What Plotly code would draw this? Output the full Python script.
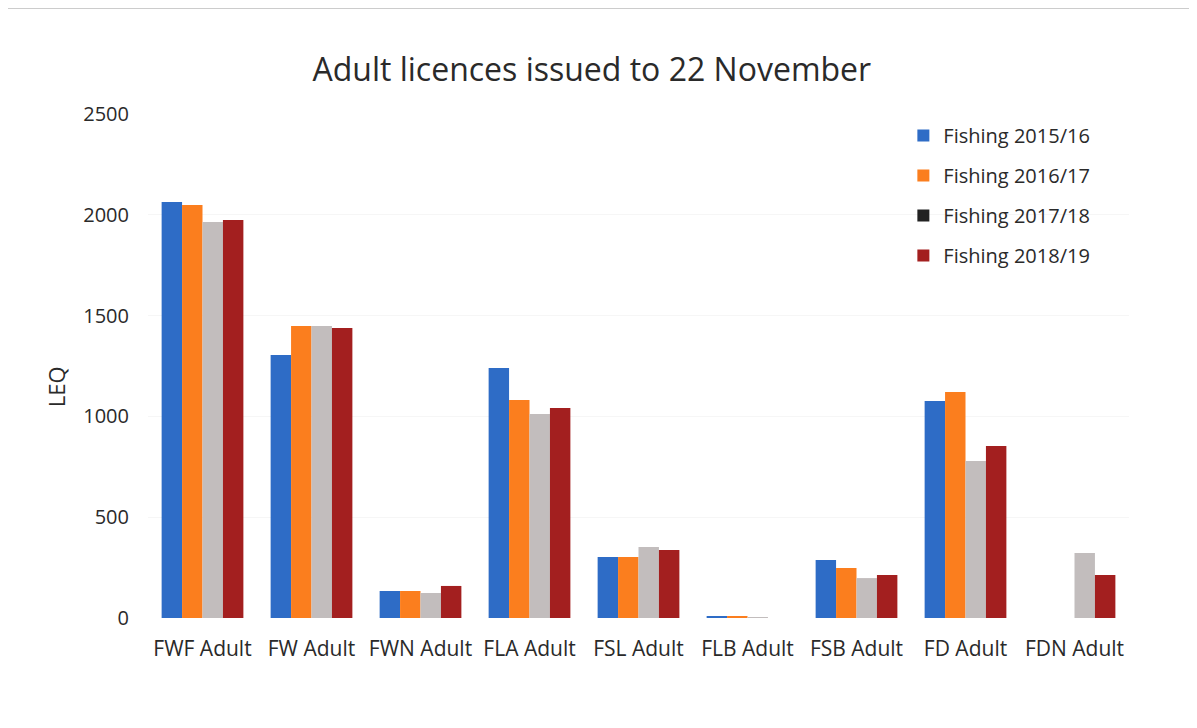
import plotly.graph_objects as go

categories = ["FWF Adult", "FW Adult", "FWN Adult", "FLA Adult", "FSL Adult",
              "FLB Adult", "FSB Adult", "FD Adult", "FDN Adult"]
series_names = ["Fishing 2015/16", "Fishing 2016/17", "Fishing 2017/18", "Fishing 2018/19"]
fishing_2015_16 = [2063, 1305, 134, 1240, 303, 5, 288, 1076, 0]
fishing_2016_17 = [2049, 1448, 134, 1081, 303, 5, 248, 1121, 0]
fishing_2017_18 = [1964, 1448, 124, 1012, 352, 3, 198, 779, 322]
fishing_2018_19 = [1974, 1438, 159, 1042, 337, 0, 213, 853, 213]
y_ticks = [0, 500, 1000, 1500, 2000, 2500]

bar_colors = ["#2E6CC6", "#FB7E1E", "#C2BDBD", "#A31F1F"]
legend_colors = ["#2E6CC6", "#FB7E1E", "#222222", "#A31F1F"]
all_series = [fishing_2015_16, fishing_2016_17, fishing_2017_18, fishing_2018_19]

fig = go.Figure()
for i, (name, vals) in enumerate(zip(series_names, all_series)):
    fig.add_trace(go.Bar(
        x=categories, y=vals, name=name, offsetgroup=str(i),
        marker=dict(color=bar_colors[i], line=dict(width=0)),
        showlegend=False,
    ))
# legend entries (zero-height bars sharing each series' slot)
for i, name in enumerate(series_names):
    fig.add_trace(go.Bar(
        x=[categories[0]], y=[0], name=name, offsetgroup=str(i),
        legendgroup="g" + str(i),
        marker=dict(color=legend_colors[i], line=dict(width=0)),
        showlegend=True, hoverinfo="skip",
    ))

fig.update_layout(
    width=1189, height=720,
    paper_bgcolor="white", plot_bgcolor="white",
    font=dict(family="Open Sans, sans-serif", color="#2A2A2A"),
    title=dict(text="Adult licences issued to 22 November", x=0.491, xanchor="center",
               y=0.914, yanchor="middle", font=dict(size=32, color="#2A2A2A")),
    margin=dict(l=140, r=68, t=106, b=110),
    barmode="group", bargap=0.25, bargroupgap=0,
    legend=dict(x=0.77, y=0.996, xanchor="left", yanchor="top",
                font=dict(size=20, color="#2A2A2A"), tracegroupgap=11,
                itemsizing="constant", traceorder="grouped",
                bgcolor="rgba(0,0,0,0)", itemwidth=30),
    shapes=[dict(type="line", xref="paper", yref="paper", x0=-0.15, x1=1.08,
                 y0=1.0 + 106 / 504, y1=1.0 + 106 / 504,
                 line=dict(color="#BBBBBB", width=1.5))],
    annotations=[dict(text="LEQ", xref="paper", yref="paper", x=-0.0938, y=0.46,
                      xanchor="center", yanchor="middle", textangle=-90,
                      showarrow=False, font=dict(size=22, color="#2A2A2A"))],
)
fig.update_xaxes(showgrid=False, showline=False, ticks="",
                 tickfont=dict(size=21, color="#2A2A2A"), ticklabelstandoff=16)
fig.update_yaxes(range=[0, 2500], tickvals=y_ticks, showgrid=True,
                 gridcolor="#F6F6F6", zeroline=False, showline=False,
                 tickfont=dict(size=20, color="#2A2A2A"), ticklabelstandoff=18)

fig.write_html("out.html")
